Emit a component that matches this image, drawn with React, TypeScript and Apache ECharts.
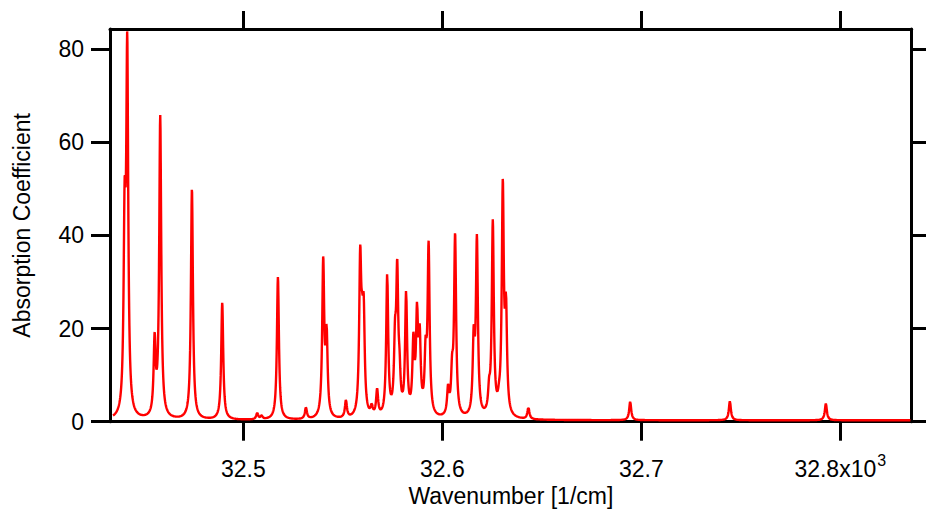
import React, { useEffect, useRef } from "react";
import * as echarts from "echarts";

// Axis ticks
const xTicks = [32.5, 32.6, 32.7, 32.8];
const yTicks = [0, 20, 40, 60, 80];

// Absorption lines: position (x10^3 1/cm) and peak height
const peakPositions = [
  32.44035, 32.44166, 32.45543, 32.45824, 32.47417, 32.47784, 32.4894,
  32.50698, 32.5092, 32.51739, 32.53146, 32.54015, 32.54186, 32.55156,
  32.55874, 32.5597, 32.5605, 32.56452, 32.56724, 32.57231, 32.57623,
  32.57734, 32.57849, 32.58181, 32.58548, 32.58729, 32.58864, 32.59161,
  32.59312, 32.60291, 32.60392, 32.60492, 32.60643, 32.61362, 32.61578,
  32.61739, 32.62176, 32.62352, 32.62538, 32.62849, 32.6304, 32.63201,
  32.64327, 32.69442, 32.74452, 32.79276,
];
const peakHeights = [
  52.3, 83.8, 19.3, 65.9, 50.1, 1.8, 25.6,
  1.9, 1.4, 31.1, 3.1, 35.6, 21.1, 4.7,
  38.0, 28.0, 27.5, 4.0, 7.2, 32.0, 22.3,
  35.1, 15.8, 28.3, 19.3, 25.9, 21.1, 18.6,
  38.9, 8.2, 5.4, 14.7, 40.7, 1.9, 20.8,
  40.3, 3.2, 9.7, 43.5, 8.6, 52.3, 28.0,
  3.1, 4.3, 4.4, 3.9,
];
const lineHalfWidth = 0.0006;
const baselineLevel = 0.3;
const spectrumStart = 32.4345;
const spectrumEnd = 32.8355;
const sampleStep = 0.000125;

function lorentz(d: number) {
  const r = d / lineHalfWidth;
  return 1 / (1 + r * r);
}

function buildSpectrum(): [number, number][] {
  const n = peakPositions.length;
  const amp = peakHeights.slice();
  for (let it = 0; it < 100; it++) {
    for (let i = 0; i < n; i++) {
      let s = baselineLevel;
      for (let j = 0; j < n; j++) s += amp[j] * lorentz(peakPositions[i] - peakPositions[j]);
      amp[i] = Math.max(0, amp[i] + (peakHeights[i] - s));
    }
  }
  const pts: [number, number][] = [];
  const count = Math.round((spectrumEnd - spectrumStart) / sampleStep);
  for (let k = 0; k <= count; k++) {
    const x = spectrumStart + k * sampleStep;
    let y = baselineLevel;
    for (let j = 0; j < n; j++) y += amp[j] * lorentz(x - peakPositions[j]);
    pts.push([x, y]);
  }
  return pts;
}

const FONT = "'Liberation Sans', Arial, Helvetica, sans-serif";

export default function App() {
  const ref = useRef<HTMLDivElement>(null);
  useEffect(() => {
    document.body.style.margin = "0";
    if (!ref.current) return;
    const chart = echarts.init(ref.current, null, { renderer: "svg" });
    const axisLine = { show: true, onZero: false, lineStyle: { color: "#000", width: 3 } };
    const xMin = 32.433;
    const xMax = 32.8359;
    const yMin = 0;
    const yMax = 84.36;
    chart.setOption({
      animation: false,
      backgroundColor: "#fff",
      grid: { left: 110, right: 14.3, top: 29, bottom: 88.3, containLabel: false, outerBoundsMode: "none" },
      xAxis: [
        {
          type: "value",
          position: "bottom",
          min: xMin,
          max: xMax,
          axisLine,
          splitLine: { show: false },
          axisTick: { show: true, inside: false, length: 19, customValues: xTicks, lineStyle: { color: "#000", width: 3 } },
          axisLabel: {
            show: true,
            customValues: xTicks,
            margin: 34,
            color: "#000",
            fontFamily: FONT,
            fontSize: 23,
            formatter: (v: number) =>
              Math.abs(v - 32.8) < 1e-6 ? "{a|32.8x10}{s|3}" : "{a|" + v.toFixed(1) + "}",
            rich: {
              a: { fontFamily: FONT, fontSize: 23, color: "#000", lineHeight: 26 },
              s: { fontFamily: FONT, fontSize: 16, color: "#000", lineHeight: 16, padding: [0, 0, 16, 1] },
            },
          },
          name: "Wavenumber [1/cm]",
          nameLocation: "middle",
          nameGap: 63,
          nameMoveOverlap: false,
          nameTextStyle: { fontFamily: FONT, fontSize: 23, color: "#000" },
        },
        {
          type: "value",
          position: "top",
          min: xMin,
          max: xMax,
          axisLine,
          splitLine: { show: false },
          axisTick: { show: true, inside: false, length: 18, customValues: xTicks, lineStyle: { color: "#000", width: 3 } },
          axisLabel: { show: false },
        },
      ],
      yAxis: [
        {
          type: "value",
          position: "left",
          min: yMin,
          max: yMax,
          axisLine,
          splitLine: { show: false },
          axisTick: { show: true, inside: false, length: 19, customValues: yTicks, lineStyle: { color: "#000", width: 3 } },
          axisLabel: {
            show: true,
            customValues: yTicks,
            margin: 26,
            color: "#000",
            fontFamily: FONT,
            fontSize: 23,
          },
          name: "Absorption Coefficient",
          nameLocation: "middle",
          nameGap: 77,
          nameMoveOverlap: false,
          nameTextStyle: { fontFamily: FONT, fontSize: 23, color: "#000" },
        },
        {
          type: "value",
          position: "right",
          min: yMin,
          max: yMax,
          axisLine,
          splitLine: { show: false },
          axisTick: { show: true, inside: false, length: 18, customValues: yTicks, lineStyle: { color: "#000", width: 3 } },
          axisLabel: { show: false },
        },
      ],
      series: [
        {
          type: "line",
          xAxisIndex: 0,
          yAxisIndex: 0,
          data: buildSpectrum(),
          showSymbol: false,
          symbol: "none",
          clip: true,
          lineStyle: { color: "#ff0000", width: 2.4 },
          z: 1,
        },
      ],
    });
    return () => chart.dispose();
  }, []);
  return <div ref={ref} style={{ width: 926, height: 510, position: "fixed", left: 0, top: 0 }} />;
}
